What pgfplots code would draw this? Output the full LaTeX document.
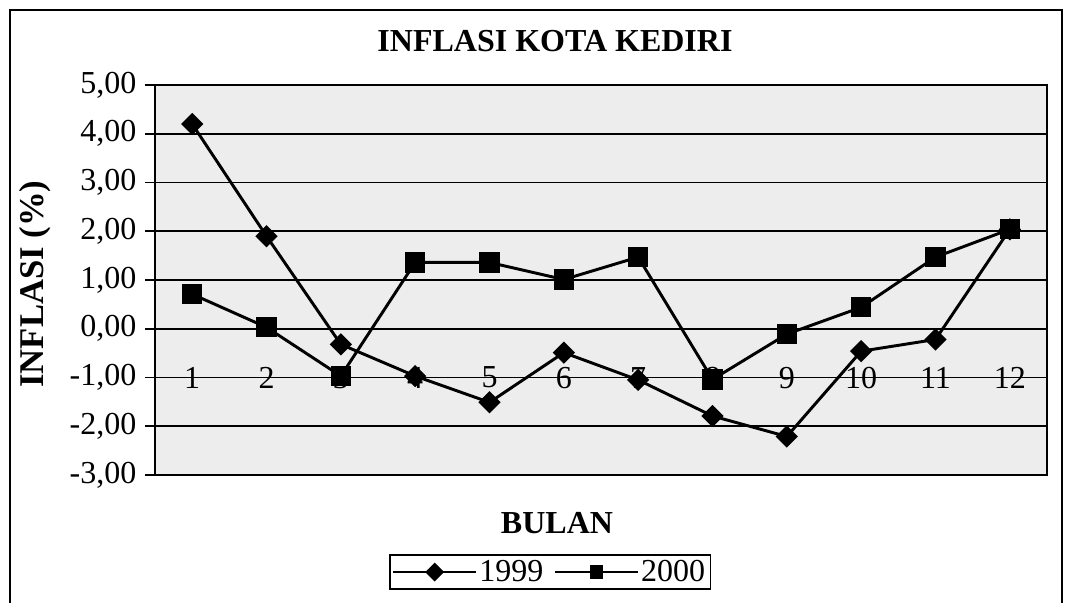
\documentclass[border=0pt]{standalone}
\usepackage{pgfplots}
\pgfplotsset{compat=1.18}
\usepackage{fontspec}
\setmainfont{Liberation Serif}
\begin{document}
\begin{tikzpicture}
\path (0pt,0pt) rectangle (798.75pt,-453pt);
\draw[line width=1pt] (7.5pt,-452pt) -- (7.5pt,-7.5pt) -- (796.5pt,-7.5pt) -- (796.5pt,-452pt);
\node[font=\fontsize{24}{28}\selectfont\bfseries] at (416.25pt,-30.75pt) {INFLASI KOTA KEDIRI};
\node[font=\fontsize{24}{28}\selectfont\bfseries] at (417.75pt,-392.25pt) {BULAN};
\node[rotate=90, font=\fontsize{26}{30}\selectfont\bfseries] at (26.25pt,-213pt) {INFLASI (\%)};
\begin{axis}[
  at={(116.25pt,-356.25pt)}, anchor=south west,
  scale only axis, width=669pt, height=292.5pt,
  xmin=0.5, xmax=12.5, ymin=-3, ymax=5,
  xtick={1,...,12}, ytick={-3,...,5},
  axis background/.style={fill=gray!14},
  ymajorgrids, grid style={black, line width=1.4pt},
  axis line style={black, line width=1.4pt},
  tick align=outside, ytick pos=left,
  major tick length=7.5pt,
  ytick style={black, line width=1.2pt},
  xtick style={draw=none},
  xticklabel style={anchor=center, yshift=80.5pt},
  yticklabel style={xshift=-3pt, /pgf/number format/.cd, fixed, fixed zerofill, precision=2, use comma},
  ticklabel style={font=\fontsize{24}{28}\selectfont},
  /pgf/number format/assume math mode=true,
  legend style={at={(0.443,-0.249)}, anchor=center, draw=black, line width=1pt,
    font=\fontsize{24}{28}\selectfont, inner sep=2pt,
    /tikz/every even column/.append style={column sep=6pt}},
  legend columns=2,
  legend image code/.code={\draw[mark repeat=2, mark phase=2, #1, line width=1.2pt, mark size=4.4pt] plot coordinates {(0pt,0pt) (31pt,0pt) (62pt,0pt)};},
]
\addplot[black, line width=2.2pt, mark=square*, mark size=4.8pt, mark options={rotate=45, solid}] coordinates {
(1,4.20) (2,1.90) (3,-0.32) (4,-0.97) (5,-1.51) (6,-0.49) (7,-1.05) (8,-1.79) (9,-2.21) (10,-0.46) (11,-0.22) (12,2.04)};
\addlegendentry{1999}
\addplot[black, line width=2.2pt, mark=square*, mark size=6.5pt, mark options={solid}] coordinates {
(1,0.71) (2,0.03) (3,-0.97) (4,1.36) (5,1.36) (6,1.01) (7,1.47) (8,-1.04) (9,-0.11) (10,0.44) (11,1.47) (12,2.04)};
\addlegendentry{2000}
\end{axis}
\end{tikzpicture}
\end{document}
